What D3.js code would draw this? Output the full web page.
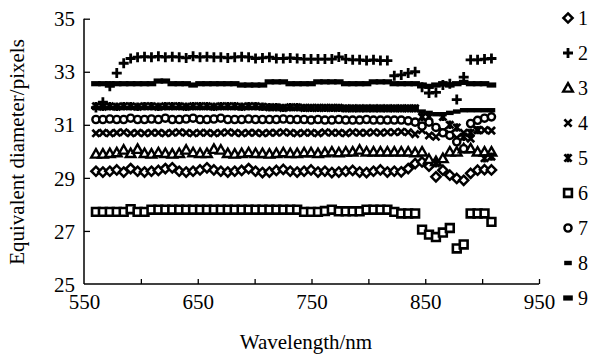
<!DOCTYPE html>
<html><head><meta charset="utf-8">
<script src="https://cdn.jsdelivr.net/npm/d3@7"></script>
<style>body{margin:0;background:#fff}svg{display:block}text{font-family:"Liberation Serif","Times New Roman",serif;fill:#000}</style>
</head><body><svg id="c" width="598" height="360"></svg>
<script>
const wavelengths=[560.5,566.6,572.7,578.8,584.9,591.0,597.1,603.2,609.3,615.4,621.5,627.6,633.7,639.8,645.9,652.0,658.1,664.2,670.3,676.4,682.5,688.6,694.7,700.8,706.9,713.0,719.1,725.2,731.3,737.4,743.5,749.6,755.7,761.8,767.9,774.0,780.1,786.2,792.3,798.4,804.5,810.6,816.7,822.8,828.9,835.0,841.1,847.2,853.3,859.4,865.5,871.6,877.7,883.8,889.9,896.0,902.1,908.2];
const s1=[29.25,29.22,29.25,29.3,29.22,29.35,29.25,29.22,29.25,29.28,29.35,29.38,29.25,29.22,29.25,29.3,29.38,29.3,29.25,29.22,29.25,29.28,29.35,29.25,29.2,29.22,29.28,29.32,29.25,29.22,29.25,29.3,29.22,29.25,29.2,29.22,29.25,29.28,29.22,29.2,29.25,29.3,29.22,29.25,29.23,29.35,29.54,29.6,29.44,29.04,29.29,29.1,28.98,28.91,29.17,29.29,29.31,29.3];
const s2=[31.65,31.85,32.45,32.95,33.32,33.5,33.55,33.57,33.55,33.58,33.55,33.57,33.55,33.52,33.58,33.55,33.57,33.55,33.55,33.52,33.55,33.57,33.55,33.5,33.52,33.55,33.5,33.5,33.52,33.5,33.48,33.48,33.48,33.48,33.48,33.56,33.48,33.45,33.45,33.42,33.45,33.42,33.42,32.85,32.88,32.95,33.0,32.42,32.2,32.22,32.5,32.55,31.95,32.8,33.45,33.45,33.48,33.5];
const s3=[29.9,29.9,29.92,29.95,30.05,29.92,30.08,29.92,29.9,29.95,29.92,29.9,29.92,30.05,29.95,29.92,29.92,30.08,30.05,29.92,29.9,29.92,29.95,29.92,29.92,29.9,29.92,29.95,29.92,29.92,29.95,29.95,29.92,29.95,29.98,29.95,29.98,29.98,30.05,29.98,29.98,29.98,29.98,29.98,29.98,29.98,29.95,29.98,29.7,29.62,29.73,29.98,29.98,30.1,30.1,29.98,29.98,29.98];
const s4=[30.68,30.7,30.68,30.7,30.72,30.68,30.7,30.68,30.7,30.7,30.68,30.7,30.72,30.7,30.68,30.7,30.7,30.68,30.7,30.72,30.7,30.68,30.7,30.7,30.68,30.7,30.7,30.72,30.7,30.68,30.7,30.7,30.68,30.72,30.7,30.7,30.68,30.72,30.7,30.7,30.72,30.7,30.72,30.72,30.74,30.72,30.65,30.8,30.6,30.55,30.75,30.65,30.5,30.7,30.48,30.8,30.8,30.78];
const s5=[31.7,31.68,31.7,31.68,31.7,31.7,31.68,31.7,31.7,31.68,31.7,31.7,31.7,31.68,31.7,31.7,31.7,31.68,31.7,31.7,31.7,31.68,31.7,31.7,31.68,31.66,31.66,31.64,31.66,31.66,31.64,31.64,31.64,31.64,31.64,31.64,31.62,31.62,31.62,31.62,31.62,31.62,31.62,31.62,31.62,31.62,31.62,31.3,31.3,29.55,31.3,31.0,30.9,30.55,30.7,30.8,29.74,29.8];
const s6=[27.72,27.72,27.72,27.72,27.72,27.82,27.72,27.72,27.8,27.8,27.8,27.8,27.8,27.8,27.8,27.8,27.8,27.8,27.8,27.8,27.8,27.8,27.8,27.8,27.8,27.8,27.8,27.8,27.8,27.8,27.72,27.72,27.72,27.75,27.8,27.74,27.74,27.74,27.74,27.8,27.8,27.8,27.8,27.72,27.66,27.66,27.66,27.05,26.86,26.77,26.94,27.11,26.34,26.49,27.66,27.66,27.66,27.34];
const s7=[31.2,31.2,31.22,31.2,31.2,31.25,31.2,31.2,31.22,31.2,31.25,31.2,31.2,31.22,31.25,31.2,31.2,31.22,31.25,31.2,31.2,31.2,31.22,31.2,31.2,31.2,31.2,31.22,31.2,31.2,31.2,31.18,31.2,31.18,31.18,31.2,31.18,31.18,31.18,31.2,31.18,31.18,31.18,31.18,31.18,31.15,31.1,30.95,31.1,30.9,30.7,30.6,30.36,30.1,31.05,31.17,31.25,31.3];
const s8=[31.64,31.64,31.64,31.64,31.64,31.64,31.64,31.64,31.64,31.64,31.64,31.64,31.64,31.64,31.64,31.64,31.64,31.64,31.64,31.64,31.64,31.64,31.64,31.64,31.64,31.64,31.64,31.62,31.62,31.62,31.62,31.62,31.62,31.62,31.62,31.62,31.62,31.62,31.62,31.62,31.62,31.62,31.62,31.62,31.62,31.62,31.62,31.5,31.45,31.4,31.4,31.45,31.5,31.55,31.55,31.55,31.55,31.55];
const s9=[32.55,32.55,32.55,32.55,32.55,32.55,32.55,32.55,32.55,32.65,32.65,32.55,32.55,32.55,32.5,32.55,32.55,32.55,32.55,32.55,32.55,32.5,32.5,32.5,32.5,32.62,32.62,32.62,32.55,32.55,32.55,32.55,32.62,32.62,32.62,32.62,32.55,32.55,32.55,32.55,32.62,32.62,32.62,32.55,32.55,32.55,32.55,32.5,32.45,32.5,32.55,32.5,32.55,32.6,32.55,32.55,32.55,32.5];
const seriesNames=["1","2","3","4","5","6","7","8","9"];
const xTicks=[550,650,750,850,950];
const xAllTicks=[550,600,650,700,750,800,850,900,950];
const yTicks=[25,27,29,31,33,35];

const svg=d3.select("#c");
const x=d3.scaleLinear().domain([550,950]).range([84,539]);
const y=d3.scaleLinear().domain([25,35]).range([284,18.7]);

const shapes={
 "1":{d:"M0,-4.6L4.6,0L0,4.6L-4.6,0Z",fill:"#fff",sw:2.5},
 "2":{d:"M-5,0H5M0,-5V5",fill:"none",sw:2.8},
 "3":{d:"M0,-4.8L4.8,3.6L-4.8,3.6Z",fill:"#fff",sw:2.4},
 "4":{d:"M-3.6,-3.6L3.6,3.6M-3.6,3.6L3.6,-3.6",fill:"none",sw:2.7},
 "5":{d:"M-3.6,-3.6L3.6,3.6M-3.6,3.6L3.6,-3.6M0,-4.2V4.2",fill:"none",sw:2.7},
 "6":{d:"M-3.9,-3.9H3.9V3.9H-3.9Z",fill:"#fff",sw:2.6},
 "7":{d:"M3.6,0A3.6,3.6 0 1,1 -3.6,0A3.6,3.6 0 1,1 3.6,0Z",fill:"#fff",sw:2.4},
 "8":{rect:[-3.8,-2.2,7.6,4.4]},
 "9":{rect:[-4.8,-2.6,9.6,5.2]}
};
const data=[s1,s2,s3,s4,s5,s6,s7,s8,s9];

const gx=svg.append("g").attr("transform","translate(0,284)")
 .call(d3.axisBottom(x).tickValues(xAllTicks).tickSize(-5).tickFormat(d=>xTicks.includes(d)?d:""));
gx.select(".domain").attr("stroke","#000").attr("stroke-width",1.5).attr("d","M84,0H539");
gx.selectAll(".tick line").attr("stroke","#000").attr("stroke-width",1.3);
gx.selectAll(".tick").filter(d=>d===550).select("line").remove();
gx.selectAll("text").attr("font-size",21).attr("dy","1.05em").attr("y",3);
const gy=svg.append("g").attr("transform","translate(84,0)")
 .call(d3.axisLeft(y).tickValues(yTicks).tickSize(-6).tickFormat(d3.format("d")));
gy.select(".domain").attr("stroke","#000").attr("stroke-width",1.5).attr("d","M0,284V18.7");
gy.selectAll(".tick line").attr("stroke","#000").attr("stroke-width",1.3);
gy.selectAll(".tick").filter(d=>d===25).select("line").remove();
gy.selectAll("text").attr("font-size",21).attr("x",-9).attr("dy","0.34em");
svg.selectAll(".domain").attr("fill","none");

svg.append("text").attr("x",306).attr("y",349).attr("text-anchor","middle").attr("font-size",21).text("Wavelength/nm");
svg.append("text").attr("transform","translate(24,152) rotate(-90)").attr("text-anchor","middle").attr("font-size",21).text("Equivalent diameter/pixels");

function drawMarker(g,name,cx,cy){
 const s=shapes[name];
 if(s.rect){g.append("rect").attr("x",cx+s.rect[0]).attr("y",cy+s.rect[1]).attr("width",s.rect[2]).attr("height",s.rect[3]).attr("fill","#000");}
 else g.append("path").attr("transform",`translate(${cx},${cy})`).attr("d",s.d).attr("fill",s.fill).attr("stroke","#000").attr("stroke-width",s.sw);
}
const plot=svg.append("g");
data.forEach((vals,k)=>{
 const g=plot.append("g").attr("class","s"+seriesNames[k]);
 vals.forEach((v,i)=>drawMarker(g,seriesNames[k],x(wavelengths[i]),y(v)));
});
const lg=svg.append("g");
seriesNames.forEach((n,k)=>{
 const ly=18+35*k;
 drawMarker(lg,n,568,ly);
 lg.append("text").attr("x",578).attr("y",ly).attr("dy","0.35em").attr("font-size",20).text(n);
});
</script></body></html>
